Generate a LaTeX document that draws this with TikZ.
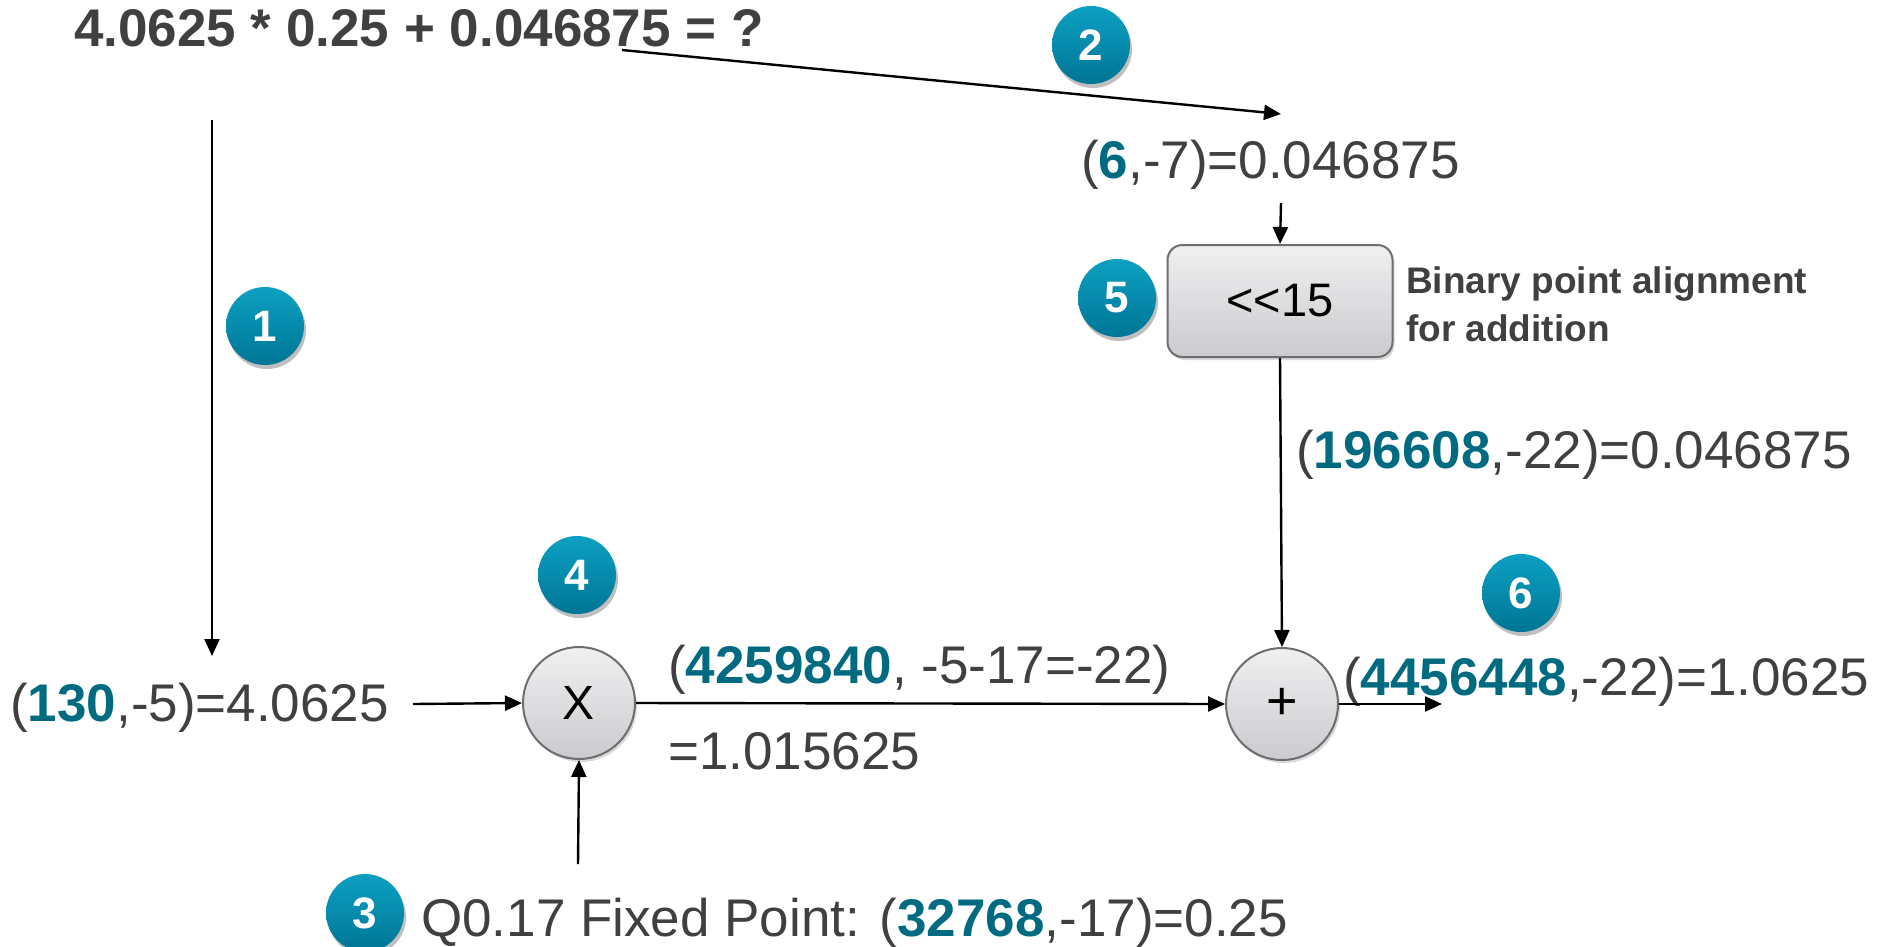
\documentclass[tikz,border=0pt]{standalone}
\usepackage{fontspec}
\setmainfont{Liberation Sans}
\usetikzlibrary{arrows.meta,shadows}
\definecolor{txt}{HTML}{404040}
\definecolor{numteal}{HTML}{006A80}
\definecolor{badgetop}{HTML}{0CA0C2}
\definecolor{badgebot}{HTML}{007595}
\definecolor{opborder}{HTML}{6E6E72}
\definecolor{optop}{HTML}{F0F0F1}
\definecolor{opbot}{HTML}{CBCBCF}
\newcommand\hlnum[1]{\textcolor{numteal}{\textbf{#1}}}
\tikzset{
  arr/.style={line width=2.4pt, -{Triangle[length=17pt,width=15pt]}},
  badge/.style={circle, minimum size=78pt, inner sep=0pt, text=white,
    top color=badgetop, bottom color=badgebot,
    font=\fontsize{44}{44}\selectfont\bfseries,
    drop shadow={shadow xshift=2pt, shadow yshift=-4pt, opacity=0.25, fill=black}},
  opcircle/.style={circle, minimum size=112pt, inner sep=0pt, draw=opborder, line width=2pt,
    top color=optop, bottom color=opbot, font=\fontsize{48}{48}\selectfont,
    drop shadow={shadow xshift=2pt, shadow yshift=-3pt, opacity=0.15, fill=black}},
  opbox/.style={rectangle, rounded corners=15pt, minimum width=225pt, minimum height=112pt,
    inner sep=0pt, draw=opborder, line width=2pt,
    top color=optop, bottom color=opbot, font=\fontsize{47}{47}\selectfont,
    drop shadow={shadow xshift=2pt, shadow yshift=-3pt, opacity=0.15, fill=black}},
  lbl/.style={inner sep=0pt, text=txt, font=\fontsize{53}{60}\selectfont, anchor=base west},
}
\begin{document}
\begin{tikzpicture}[x=1pt, y=-1pt]
\useasboundingbox (0,0) rectangle (1877,946);

% title
\node[lbl, font=\fontsize{53}{60}\selectfont\bfseries] (title) at (74,46) {4.0625 * 0.25 + 0.046875 = ?};

% value labels
\node[lbl] (in1) at (10,721) {(\hlnum{130},-5)=4.0625};
\node[lbl] (in2) at (1081,178) {(\hlnum{6},-7)=0.046875};
\node[lbl] (sh) at (1296,468) {(\hlnum{196608},-22)=0.046875};
\node[lbl] (prod) at (668,683) {(\hlnum{4259840}, -5-17=-22)};
\node[lbl] (prodv) at (668,769) {=1.015625};
\node[lbl] (q) at (421,936) {Q0.17 Fixed Point: (\hlnum{32768},-17)=0.25};
\node[lbl] (res) at (1343,695) {(\hlnum{4456448},-22)=1.0625};

% operators
\node[opcircle] (mul) at (579,703) {X};
\node[opcircle, font=\fontsize{54}{54}\selectfont] (add) at (1282,704) {+};
\node[opbox] (shift) at (1280,301) {<{}<15};
\node[inner sep=0pt, text=txt, font=\fontsize{37}{48}\selectfont\bfseries, align=left, anchor=north west] (note) at (1406,266)
  {Binary point alignment\\for addition};

% badges
\node[badge] (b1) at (265,326) {1};
\node[badge] (b2) at (1091,45) {2};
\node[badge] (b3) at (365,913) {3};
\node[badge] (b4) at (577,575) {4};
\node[badge] (b5) at (1117,298) {5};
\node[badge] (b6) at (1521,593) {6};

% connector endpoints
\coordinate (a1s) at (212,120);
\coordinate (a1e) at (212,656);
\coordinate (a2s) at (622,50);
\coordinate (a2e) at (1281,114);
\coordinate (a3s) at (1281,203);
\coordinate (a4s) at (413,704);
\coordinate (a5s) at (578,864);
\coordinate (a6e) at (1442,704);

\draw[arr] (a1s) -- (a1e);
\draw[arr] (a2s) -- (a2e);
\draw[arr] (a3s) -- (shift.north);
\draw[arr] (shift.south) -- (add.north);
\draw[arr] (a4s) -- (mul.west);
\draw[arr] (a5s) -- (mul.south);
\draw[arr] (mul.east) -- (add.west);
\draw[arr] (add.east) -- (a6e);
\end{tikzpicture}
\end{document}
